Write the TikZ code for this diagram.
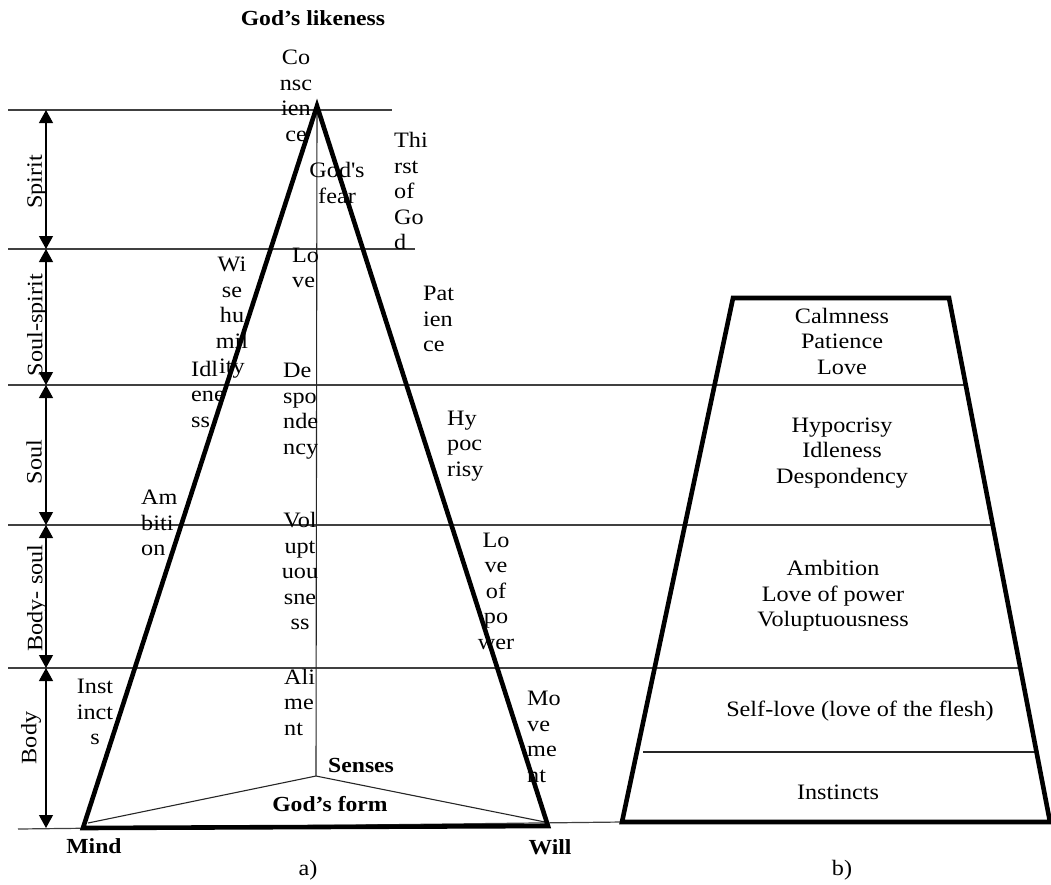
\documentclass[tikz,border=0pt]{standalone}
\usepackage{fontspec}
\setmainfont{Liberation Serif}[FakeStretch=1.1]
\usetikzlibrary{arrows.meta}
\begin{document}
\begin{tikzpicture}[x=1pt,y=-1pt,
  heavy/.style={line width=4.6pt, line join=miter, line cap=round},
  rule/.style={line width=1.2pt, draw=black!75},
  thinline/.style={line width=1.1pt, draw=black!85},
  lbl/.style={inner sep=0pt, font=\fontsize{22}{25.5}\selectfont},
  blbl/.style={inner sep=0pt, font=\fontsize{21.5}{25}\selectfont\bfseries},
  dimarrow/.style={line width=1.2pt, {Triangle[width=14pt,length=13pt]}-{Triangle[width=14pt,length=13pt]}},
]
\useasboundingbox (0,0) rectangle (1051,884);

% key points
\coordinate (apex) at (317,106);
\coordinate (mind) at (83,828);
\coordinate (will) at (548,826);
\coordinate (senses) at (316,776);
\coordinate (mindin) at (88,823);
\coordinate (willin) at (545,822);
\coordinate (tl) at (733,298);
\coordinate (tr) at (949,298);
\coordinate (br) at (1050,822);
\coordinate (bl) at (622,822);

% horizontal level lines
\draw[rule] (8,110) -- (392,110);
\draw[rule] (8,249) -- (415,249);
\draw[rule] (8,385) -- (965,385);
\draw[rule] (8,525) -- (993,525);
\draw[rule] (8,668) -- (1020,668);
\draw[rule] (18,829) -- (622,822);
\draw[thinline] (643,752) -- (1035,752);

% dimension arrows
\coordinate (d0) at (46,110);
\coordinate (d1) at (46,249);
\coordinate (d2) at (46,385);
\coordinate (d3) at (46,525);
\coordinate (d4) at (46,668);
\coordinate (d5) at (46,828);
\draw[dimarrow] (d0) -- (d1);
\draw[dimarrow] (d1) -- (d2);
\draw[dimarrow] (d2) -- (d3);
\draw[dimarrow] (d3) -- (d4);
\draw[dimarrow] (d4) -- (d5);

\node[lbl, rotate=90] (lspirit) at (37,182) {Spirit};
\node[lbl, rotate=90] (lsoulspirit) at (37,325) {Soul-spirit};
\node[lbl, rotate=90] (lsoul) at (34,462) {Soul};
\node[lbl, rotate=90] (lbodysoul) at (37,598) {Body- soul};
\node[lbl, rotate=90] (lbody) at (31,738) {Body};

% inner lines of triangle
\draw[thinline] (apex) -- (senses);
\draw[thinline] (mindin) -- (senses) -- (willin);

% triangle
\draw[heavy] (apex) -- (mind) -- (will) -- cycle;

% trapezoid
\draw[heavy] (tl) -- (tr) -- (br) -- (bl) -- cycle;

% triangle labels
\node[blbl] (likeness) at (313,18) {God’s likeness};
\node[lbl, align=center] (consc) at (296,96) {Co\\nsc\\ien\\ce};
\node[lbl, align=center] (fear) at (337,183) {God\textquotesingle s\\fear};
\node[lbl, align=left, anchor=west] (thirst) at (394,191) {Thi\\rst\\of\\Go\\d};
\node[lbl, align=left, anchor=west] (love) at (292,268) {Lo\\ve};
\node[lbl, align=center] (wise) at (232,318) {Wi\\se\\hu\\mil\\ity};
\node[lbl, align=left, anchor=west] (idle) at (191,394) {Idl\\ene\\ss};
\node[lbl, align=left, anchor=west] (pat) at (423,319) {Pat\\ien\\ce};
\node[lbl, align=left, anchor=west] (desp) at (283,411) {De\\spo\\nde\\ncy};
\node[lbl, align=left, anchor=west] (hyp) at (447,446) {Hy\\poc\\risy};
\node[lbl, align=left, anchor=west] (amb) at (141,523) {Am\\biti\\on};
\node[lbl, align=center] (volup) at (300,571) {Vol\\upt\\uou\\sne\\ss};
\node[lbl, align=center] (power) at (496,591) {Lo\\ve\\of\\po\\wer};
\node[lbl, align=center] (inst) at (95,712) {Inst\\inct\\s};
\node[lbl, align=left, anchor=west] (alim) at (284,702) {Ali\\me\\nt};
\node[lbl, align=left, anchor=west] (move) at (527,737) {Mo\\ve\\me\\nt};
\node[blbl, anchor=west] (sens) at (328,765) {Senses};
\node[blbl] (form) at (330,804) {God’s form};
\node[blbl] (mindl) at (94,846) {Mind};
\node[blbl] (willl) at (550,847) {Will};
\node[lbl] (capa) at (308,870) {a)};

% trapezoid labels
\node[lbl, align=center] (t1) at (842,341) {Calmness\\Patience\\Love};
\node[lbl, align=center] (t2) at (842,453) {Hypocrisy\\Idleness\\Despondency};
\node[lbl, align=center] (t3) at (833,596) {Ambition\\Love of power\\Voluptuousness};
\node[lbl] (t4) at (860,711) {Self-love (love of the flesh)};
\node[lbl] (t5) at (838,792) {Instincts};
\node[lbl] (capb) at (842,870) {b)};
\end{tikzpicture}
\end{document}
